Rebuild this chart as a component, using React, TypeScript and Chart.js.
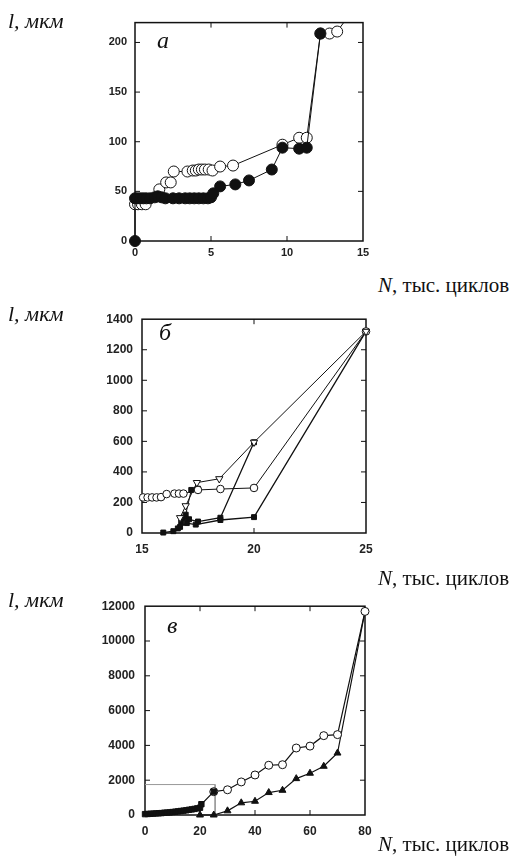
import React, { useEffect, useRef } from "react";
import { Chart, registerables } from "chart.js";

Chart.register(...registerables);

// ---------- Panel а ----------
const aOpenX = [0, 0.2, 0.45, 0.7, 1.6, 2.05, 2.35, 2.55, 3.45, 3.8, 4.0, 4.2, 4.4, 4.6, 4.85, 5.1, 5.6, 6.45, 9.7, 10.8, 11.3, 12.2, 12.8, 13.3, 14.3];
const aOpenY = [37, 37, 37, 37, 52, 59, 59, 70, 70, 71, 71, 72, 72, 72, 72, 71, 75, 76, 97, 104, 104, 209, 209, 211, 232];
const aFillX = [0, 0, 0.15, 0.35, 0.55, 0.75, 1.0, 1.3, 1.5, 1.75, 2.0, 2.5, 2.9, 3.3, 3.6, 3.9, 4.2, 4.5, 4.8, 5.0, 5.15, 5.6, 6.6, 7.5, 9.0, 9.7, 10.8, 11.3, 12.2];
const aFillY = [0, 43, 43, 43, 43, 43, 43, 44, 45, 44, 43, 43, 43, 43, 43, 43, 43, 43, 43, 44, 48, 55, 57, 61, 72, 94, 93, 94, 209];

// ---------- Panel б ----------
const bCircX = [15.05, 15.25, 15.45, 15.65, 15.85, 16.1, 16.45, 16.65, 16.85, 17.5, 18.5, 20, 25];
const bCircY = [233, 233, 233, 233, 235, 255, 258, 258, 258, 282, 288, 295, 1320];
const bTriX = [16.7, 16.95, 17.45, 18.45, 20, 25];
const bTriY = [100, 178, 330, 355, 594, 1320];
const bSqAX = [15.95, 16.4, 16.7, 17.0, 17.4, 18.5, 20, 25];
const bSqAY = [3, 12, 40, 65, 55, 85, 104, 1320];
const bSqBX = [16.6, 16.85, 17.1, 17.5, 18.5, 20];
const bSqBY = [30, 100, 90, 75, 100, 594];
const bSqCX = [16.75, 16.95, 17.2, 17.5];
const bSqCY = [70, 120, 282, 290];

// ---------- Panel в ----------
const cCircX = [25, 30, 35, 40, 45, 50, 55, 60, 65, 70, 80];
const cCircY = [1340, 1450, 1900, 2300, 2860, 2890, 3850, 3960, 4560, 4620, 11700];
const cTriX = [20, 25, 30, 35, 40, 45, 50, 55, 60, 65, 70, 80];
const cTriY = [0, 0, 240, 700, 790, 1290, 1420, 2090, 2400, 2800, 3560, 11700];
const cSqX = [0, 1, 2, 3, 4, 5, 6, 7, 8, 9, 10, 11, 12, 13, 14, 15, 16, 17, 18, 19, 20, 20.5, 25];
const cSqY = [50, 60, 70, 80, 90, 100, 110, 130, 140, 150, 170, 190, 210, 230, 250, 270, 300, 320, 350, 380, 420, 620, 1340];
const cRefX = [0, 25.5, 25.5];
const cRefY = [1750, 1750, 0];

const pts = (xs: number[], ys: number[]) => xs.map((x, i) => ({ x, y: ys[i] }));

const frame = {
  id: "frame",
  beforeDatasetsDraw(chart: any) {
    const { ctx, chartArea: a, scales } = chart;
    ctx.save();
    ctx.strokeStyle = "#111";
    ctx.lineWidth = 1.5;
    ctx.strokeRect(a.left, a.top, a.right - a.left, a.bottom - a.top);
    ctx.lineWidth = 1;
    const L = 5;
    const seg = (x1: number, y1: number, x2: number, y2: number) => {
      ctx.beginPath();
      ctx.moveTo(x1, y1);
      ctx.lineTo(x2, y2);
      ctx.stroke();
    };
    scales.x.ticks.forEach((t: any) => {
      const px = scales.x.getPixelForValue(t.value);
      if (px <= a.left + 1 || px >= a.right - 1) return;
      seg(px, a.bottom, px, a.bottom - L);
      seg(px, a.top, px, a.top + L);
    });
    scales.y.ticks.forEach((t: any) => {
      const py = scales.y.getPixelForValue(t.value);
      if (py <= a.top + 1 || py >= a.bottom - 1) return;
      seg(a.left, py, a.left + L, py);
      seg(a.right, py, a.right - L, py);
    });
    ctx.restore();
  },
};

type DS = {
  x: number[];
  y: number[];
  style: string;
  r: number;
  fill: boolean;
  rot?: number;
  color?: string;
  width?: number;
};

type Panel = {
  left: number;
  right: number;
  padTop: number;
  xh: number;
  xmin: number;
  xmax: number;
  xstep: number;
  ymin: number;
  ymax: number;
  ystep: number;
  fontSize: number;
  xPad: number;
  yPad: number;
  datasets: DS[];
};

function makeConfig(p: Panel): any {
  const tickFont = { family: "'Liberation Sans', Arial, sans-serif", size: p.fontSize, weight: "bold" as const };
  const fmt = (v: any) => String(v);
  return {
    type: "scatter",
    data: {
      datasets: p.datasets.map((d) => ({
        data: pts(d.x, d.y),
        showLine: true,
        borderColor: d.color || "#111",
        borderWidth: d.width ?? 1,
        pointStyle: d.style,
        pointRotation: d.rot || 0,
        pointRadius: d.r,
        pointBackgroundColor: d.fill ? "#111" : "#fff",
        pointBorderColor: "#111",
        pointBorderWidth: 1,
        clip: { left: 10, right: 10, top: 0, bottom: 10 },
      })),
    },
    options: {
      responsive: false,
      maintainAspectRatio: false,
      animation: false,
      events: [],
      layout: { padding: { left: 0, right: 522 - p.right, top: p.padTop, bottom: 0 } },
      plugins: { legend: { display: false }, tooltip: { enabled: false } },
      scales: {
        x: {
          type: "linear",
          min: p.xmin,
          max: p.xmax,
          grid: { display: false, drawTicks: false },
          border: { display: false },
          ticks: { stepSize: p.xstep, font: tickFont, color: "#222", padding: p.xPad, maxRotation: 0, autoSkip: false, callback: fmt },
          afterBuildTicks: (s: any) => {
            s.ticks = s.ticks.filter((t: any) => Math.abs(t.value / p.xstep - Math.round(t.value / p.xstep)) < 1e-6);
          },
          afterFit: (s: any) => {
            s.height = p.xh;
          },
        },
        y: {
          type: "linear",
          min: p.ymin,
          max: p.ymax,
          grid: { display: false, drawTicks: false },
          border: { display: false },
          ticks: { stepSize: p.ystep, font: tickFont, color: "#222", padding: p.yPad, autoSkip: false, callback: fmt },
          afterBuildTicks: (s: any) => {
            s.ticks = s.ticks.filter((t: any) => Math.abs(t.value / p.ystep - Math.round(t.value / p.ystep)) < 1e-6);
          },
          afterFit: (s: any) => {
            s.width = p.left;
          },
        },
      },
    },
    plugins: [frame],
  };
}

const panelA: Panel = {
  left: 135, right: 363, padTop: 10, xh: 30,
  xmin: 0, xmax: 15, xstep: 5, ymin: 0, ymax: 220, ystep: 50,
  fontSize: 11, xPad: 5, yPad: 8,
  datasets: [
    { x: aFillX, y: aFillY, style: "circle", r: 5.5, fill: true },
    { x: aOpenX, y: aOpenY, style: "circle", r: 5.5, fill: false },
  ],
};

const panelB: Panel = {
  left: 142, right: 366, padTop: 10, xh: 30,
  xmin: 15, xmax: 25, xstep: 5, ymin: 0, ymax: 1400, ystep: 200,
  fontSize: 12, xPad: 9, yPad: 9,
  datasets: [
    { x: bTriX, y: bTriY, style: "triangle", rot: 180, r: 4.2, fill: false },
    { x: bCircX, y: bCircY, style: "circle", r: 3.8, fill: false },
    { x: bSqAX, y: bSqAY, style: "rect", r: 3.5, fill: true, width: 1.3 },
    { x: bSqBX, y: bSqBY, style: "rect", r: 3.5, fill: true, width: 1.3 },
    { x: bSqCX, y: bSqCY, style: "rect", r: 3.5, fill: true },
  ],
};

const panelC: Panel = {
  left: 145, right: 365, padTop: 10, xh: 30,
  xmin: 0, xmax: 80, xstep: 20, ymin: 0, ymax: 12000, ystep: 2000,
  fontSize: 12, xPad: 9, yPad: 10,
  datasets: [
    { x: cSqX, y: cSqY, style: "rect", r: 3.8, fill: true, width: 1.2 },
    { x: cCircX, y: cCircY, style: "circle", r: 4, fill: false, width: 1.2 },
    { x: cTriX, y: cTriY, style: "triangle", r: 4, fill: true, width: 1.2 },
    { x: cRefX, y: cRefY, style: "circle", r: 0, fill: false, color: "#999", width: 1 },
  ],
};

function ChartPanel({ cfg, top, height }: { cfg: Panel; top: number; height: number }) {
  const ref = useRef<HTMLCanvasElement | null>(null);
  useEffect(() => {
    if (!ref.current) return;
    const chart = new Chart(ref.current, makeConfig(cfg));
    return () => chart.destroy();
  }, [cfg]);
  return (
    <canvas
      ref={ref}
      width={522}
      height={height}
      style={{ position: "absolute", left: 0, top, width: 522, height }}
    />
  );
}

const serif = "'Liberation Serif', 'Times New Roman', serif";

function Txt({ children, left, top, size, italic }: any) {
  return (
    <div
      style={{
        position: "absolute",
        left,
        top,
        fontFamily: serif,
        fontSize: size,
        lineHeight: `${size}px`,
        fontStyle: italic ? "italic" : "normal",
        color: "#111",
        whiteSpace: "nowrap",
      }}
    >
      {children}
    </div>
  );
}

function NLabel({ top }: { top: number }) {
  return (
    <Txt left={378} top={top} size={21}>
      <i>N</i>, тыс. циклов
    </Txt>
  );
}

export default function App() {
  return (
    <div style={{ position: "absolute", left: 0, top: 0, width: 522, height: 860, background: "#fff", overflow: "hidden" }}>
      <ChartPanel cfg={panelA} top={8} height={263} />
      <ChartPanel cfg={panelB} top={303} height={260} />
      <ChartPanel cfg={panelC} top={589} height={256} />

      <Txt left={8} top={10} size={22} italic>l, мкм</Txt>
      <Txt left={8} top={303} size={22} italic>l, мкм</Txt>
      <Txt left={8} top={589} size={22} italic>l, мкм</Txt>

      <NLabel top={275} />
      <NLabel top={568} />
      <NLabel top={834} />

      <Txt left={157} top={28} size={24} italic>а</Txt>
      <Txt left={159} top={320} size={24} italic>б</Txt>
      <Txt left={167} top={613} size={24} italic>в</Txt>
    </div>
  );
}
